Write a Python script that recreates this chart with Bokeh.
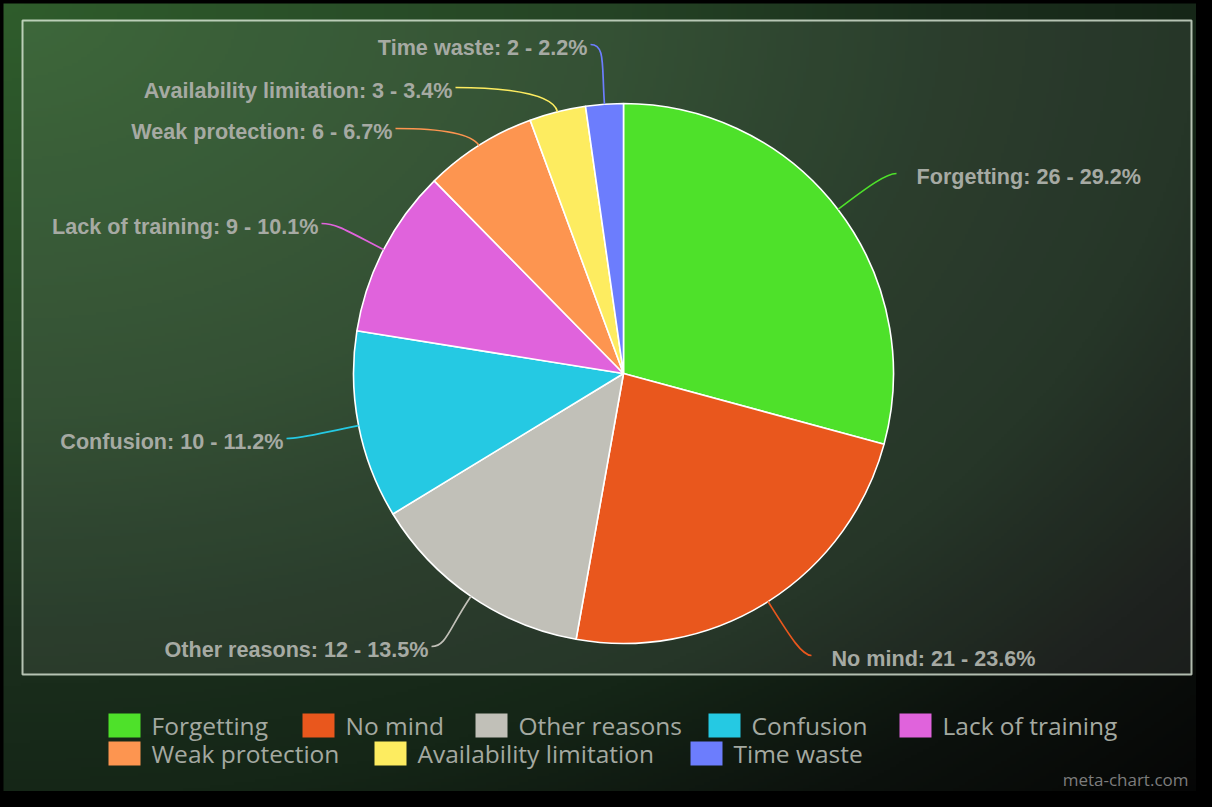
import math
import numpy as np
from bokeh.plotting import figure
from bokeh.models import Range1d, ColumnDataSource
from bokeh.core.properties import value
from bokeh.embed import file_html
from bokeh.resources import INLINE

# ---------------- data ----------------
categories = ["Forgetting", "No mind", "Other reasons", "Confusion",
              "Lack of training", "Weak protection", "Availability limitation", "Time waste"]
counts = [26, 21, 12, 10, 9, 6, 3, 2]
colors = ["#4ee12a", "#e9571d", "#c1c0b8", "#25c9e3",
          "#e063dc", "#fd9550", "#fdec60", "#6c7dfd"]

# ---------------- layout (screen px of the 1212x807 picture) ----------------
PAGE_H = 807
FIG_W, FIG_H = 1196, 791
CX, CY, R = 623, 373, 270
# label anchor (x, y, side): side "R" = label right of pie (left-aligned text)
label_xy = [(916, 176, "R"), (831, 658, "R"), (428, 649, "L"), (283, 441, "L"),
            (318, 226, "L"), (392, 131, "L"), (452, 90, "L"), (587, 47, "L")]
legend_x = [108, 302, 475, 708, 899, 108, 374, 690]
legend_row = [0, 0, 0, 0, 0, 1, 1, 1]
legend_top = [713, 741]


def Y(ys):
    return PAGE_H - ys


p = figure(width=FIG_W, height=FIG_H, x_range=Range1d(0, FIG_W),
           y_range=Range1d(PAGE_H - FIG_H, PAGE_H),
           output_backend="svg", toolbar_location=None, min_border=0,
           x_axis_location=None, y_axis_location=None)
p.grid.visible = False
p.outline_line_color = None
p.background_fill_color = "#000000"
p.border_fill_color = "#000000"

# ---------------- background gradient ----------------
X0, X1, S0, S1 = 3, FIG_W, 3, FIG_H
h, w = 263, 398
jj, ii = np.mgrid[0:h, 0:w]
sx = X0 + (ii + 0.5) * (X1 - X0) / w
sy = S1 - (jj + 0.5) * (S1 - S0) / h
d = np.sqrt((sx / 1212.0) ** 2 + (sy / 807.0) ** 2) / math.sqrt(2)
stops_d = [0.0, 0.35, 0.55, 0.7, 0.85, 1.0]
stops_c = [(47, 93, 44), (37, 68, 37), (27, 47, 29), (21, 38, 23), (12, 17, 13), (5, 5, 5)]
img = np.empty((h, w), dtype=np.uint32)
view = img.view(dtype=np.uint8).reshape((h, w, 4))
for k in range(3):
    view[:, :, k] = np.clip(np.interp(d, stops_d, [c[k] for c in stops_c]), 0, 255).astype(np.uint8)
view[:, :, 3] = 255
p.image_rgba(image=[img], x=X0, y=Y(S1), dw=X1 - X0, dh=S1 - S0)

# inner plot box
p.quad(left=22, right=1191, bottom=Y(674), top=Y(20), fill_color="#ffffff", fill_alpha=0.075,
       line_color="#e8f4e4", line_alpha=0.75, line_width=2)

# ---------------- pie ----------------
total = float(sum(counts))
cum = np.concatenate([[0], np.cumsum(counts)])
starts = [math.pi / 2 - 2 * math.pi * cum[i] / total for i in range(len(counts))]
ends = [math.pi / 2 - 2 * math.pi * cum[i + 1] / total for i in range(len(counts))]
src = ColumnDataSource(dict(start=starts, end=ends, color=colors, cat=categories))
p.wedge(x=CX, y=Y(CY), radius=R, start_angle="start", end_angle="end", direction="clock",
        fill_color="color", line_color="#ffffff", line_width=1.6, source=src)

# ---------------- connectors + labels ----------------
lx, ly, ltxt, lalign = [], [], [], []
for i, (cat, n) in enumerate(zip(categories, counts)):
    mid = (starts[i] + ends[i]) / 2
    dx, dy = math.cos(mid), math.sin(mid)
    x0, y0 = CX + R * dx, Y(CY) + R * dy
    ax, ay, side = label_xy[i]
    if side == "R":
        x3 = ax - 20
        c2x = x3 - 10
        align = "left"
    else:
        x3 = ax + 3
        c2x = x3 + 15
        align = "right"
    y3 = Y(ay) + 3
    L = 40.0
    if abs(dy) > 1e-6:
        L = min(40.0, abs(y3 - y0) / abs(dy))
    c1x, c1y = x0 + dx * L, y0 + dy * L
    p.bezier(x0=x0, y0=y0, x1=x3, y1=y3, cx0=c1x, cy0=c1y, cx1=c2x, cy1=y3,
             line_color=colors[i], line_width=1.7)
    pct = 100.0 * n / total
    lx.append(ax)
    ly.append(Y(ay))
    ltxt.append(f"{cat}: {n} - {pct:.1f}%")
    lalign.append(align)

lab = ColumnDataSource(dict(x=lx, y=ly, t=ltxt, a=lalign))
p.text(x="x", y="y", text="t", text_align="a", text_baseline="middle", source=lab,
       text_font=value("Liberation Sans"), text_font_style="bold", text_font_size="21.6px",
       text_color="#a6aaa3")

# ---------------- legend ----------------
sq_l = legend_x
sq_r = [x + 32 for x in legend_x]
sq_t = [Y(legend_top[r]) for r in legend_row]
sq_b = [Y(legend_top[r] + 24) for r in legend_row]
p.quad(left=sq_l, right=sq_r, top=sq_t, bottom=sq_b, fill_color=colors, line_color=None)
p.text(x=[x + 43 for x in legend_x], y=[Y(legend_top[r] + 12) for r in legend_row],
       text=categories, text_baseline="middle", text_align="left",
       text_font=value("Open Sans"), text_font_size="24.5px", text_color="#a4a9a1")

# credit
p.text(x=[1188], y=[Y(779)], text=["meta-chart.com"], text_align="right", text_baseline="middle",
       text_font=value("Open Sans"), text_font_size="17px", text_color="#7d7d7d")

html = file_html(p, INLINE, title="Pie chart")
html = html.replace("<head>", "<head><style>html,body{background:#000000;}</style>", 1)
open("out.html", "w").write(html)
